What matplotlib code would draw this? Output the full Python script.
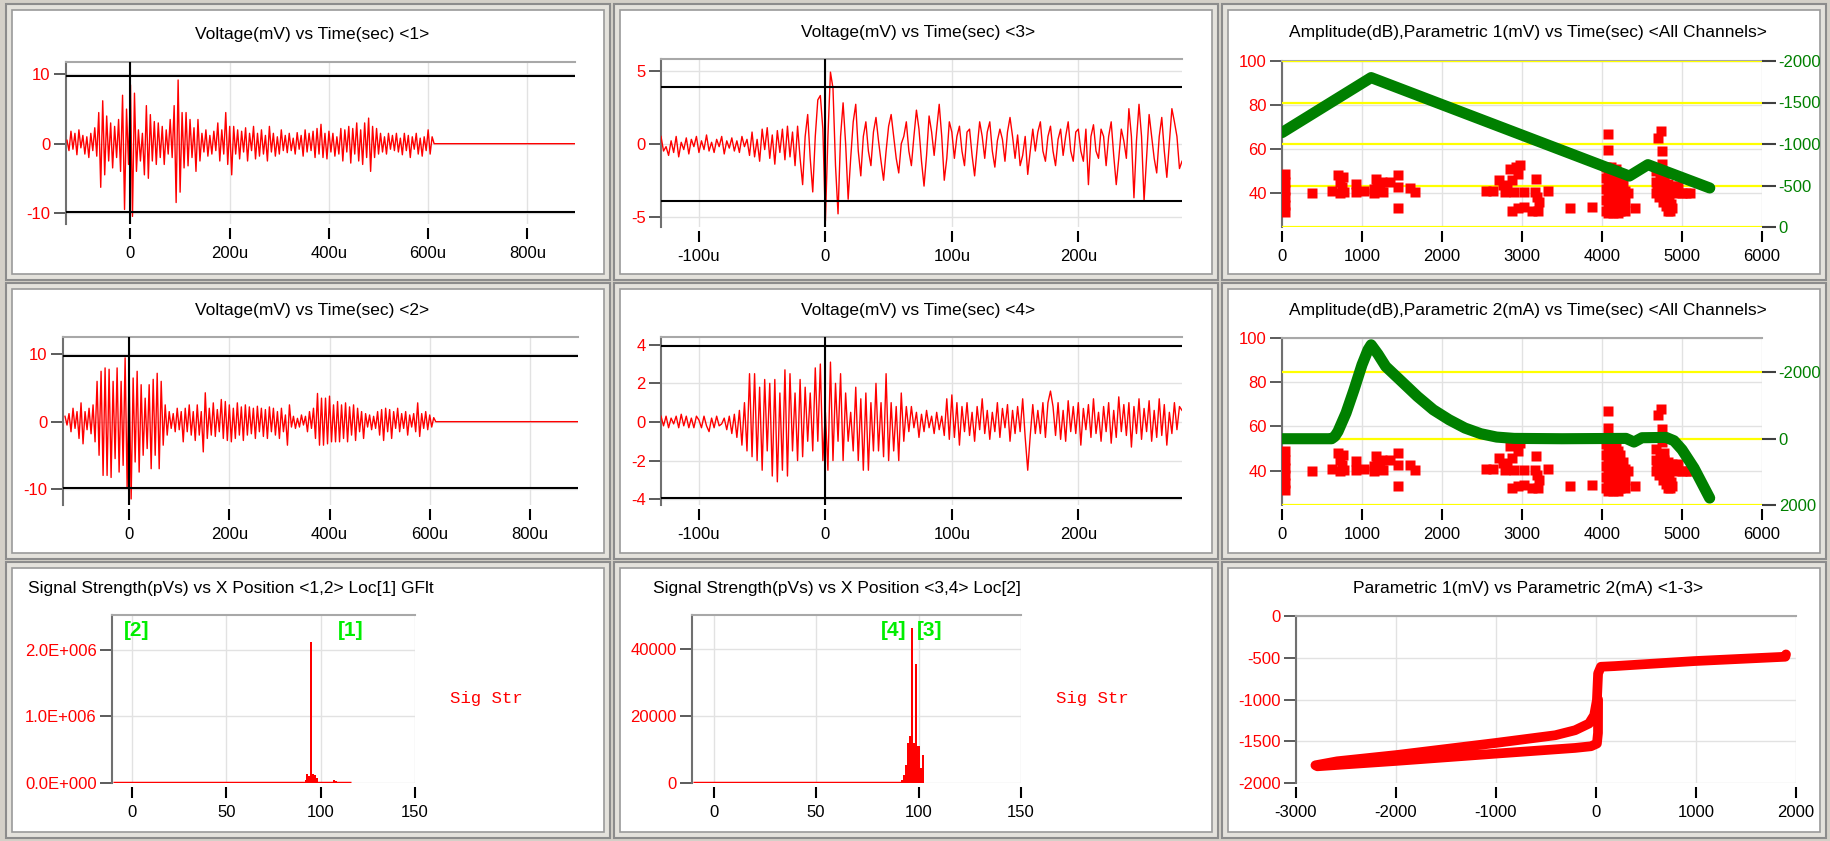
import numpy as np
import matplotlib.pyplot as plt
from matplotlib.patches import Rectangle
from matplotlib.ticker import FuncFormatter

# ---------------- data ----------------
# waveform <1> (mV), sampled every 4 us from -128 us, then flat 0 to 896 us
W1_T0, W1_DT, W1_END = -128, 4, 896
W1 = [0.5, -1.0, 1.8, -0.8, 1.5, -1.6, 2.0, -0.6, 1.2, -1.5,
      1.0, -2.0, 1.5, -1.0, 2.3, -1.8, 4.5, -6.3, 6.2, -4.5,
      4.0, -2.5, 3.0, -3.5, 2.5, -2.0, 3.5, -4.0, 7.0, -9.5,
      5.0, -3.0, 8.5, -10.5, 7.3, -4.0, 2.0, -2.5, 1.5, -4.5,
      5.5, -5.0, 4.2, -2.5, 3.2, -3.0, 3.0, -2.0, 2.5, -3.0,
      2.0, -1.5, 3.5, -2.0, 5.5, -8.5, 9.2, -7.0, 4.5, -3.5,
      4.5, -3.2, 3.5, -2.0, 2.3, -4.0, 3.5, -2.5, 1.5, -1.2,
      2.0, -1.8, 1.2, -1.5, 1.8, -1.0, 3.0, -2.5, 2.0, -1.5,
      4.5, -3.0, 2.5, -4.5, 2.5, -1.5, 2.0, -2.2, 1.8, -1.2,
      2.3, -2.5, 1.5, -1.0, 2.5, -2.2, 1.5, -1.8, 2.0, -1.5,
      1.2, -2.5, 2.5, -1.2, 1.5, -1.8, 1.0, -1.5, 2.0, -1.0,
      1.2, -1.3, 1.5, -1.0, 0.8, -1.5, 1.6, -0.8, 1.2, -1.8,
      2.0, -1.2, 1.5, -1.0, 1.8, -2.0, 2.2, -1.5, 2.8, -2.0,
      1.5, -2.2, 1.8, -1.2, 1.5, -1.8, 1.0, -1.5, 2.2, -2.5,
      2.0, -1.2, 2.5, -2.8, 2.2, -1.5, 3.0, -2.5, 2.0, -3.0,
      3.0, -2.0, 3.7, -4.0, 2.5, -2.0, 2.2, -1.5, 1.5, -1.2,
      1.0, -1.5, 1.5, -0.8, 1.2, -1.0, 1.5, -1.2, 0.8, -1.6,
      1.5, -1.0, 1.2, -2.0, 1.0, -0.8, 1.5, -1.5, 0.8, -1.8,
      1.0, -1.0, 2.0, -1.5, 1.0]

# waveform <2> (mV)
W2_T0, W2_DT, W2_END = -128, 4, 896
W2 = [0.8, -0.5, 1.2, -1.5, 2.0, -1.0, 1.5, -2.5, 2.8, -3.3,
      1.5, -1.2, 2.0, -1.8, 2.5, -3.0, 6.0, -5.0, 7.5, -8.0,
      8.0, -8.0, 7.8, -8.3, 6.0, -5.5, 8.0, -7.5, 6.0, -6.5,
      9.5, -9.8, 7.5, -11.5, 6.5, -6.0, 7.5, -7.5, 5.5, -5.0,
      3.5, -4.0, 5.5, -7.0, 6.3, -5.0, 7.2, -7.0, 6.0, -3.5,
      2.5, -2.0, 1.5, -1.0, 1.2, -1.5, 2.0, -1.2, 1.5, -3.0,
      2.0, -1.5, 2.5, -2.0, 1.5, -2.8, 2.5, -2.0, 1.5, -4.5,
      4.3, -2.5, 2.0, -2.0, 2.8, -2.2, 1.8, -1.5, 3.3, -2.5,
      3.0, -2.8, 2.5, -3.0, 2.0, -2.5, 2.8, -2.0, 2.2, -2.8,
      2.5, -2.0, 2.2, -1.8, 2.0, -2.5, 2.3, -1.5, 2.0, -2.2,
      1.8, -2.5, 2.2, -1.5, 2.0, -2.0, 1.5, -2.5, 2.0, -1.5,
      1.0, -3.5, 2.5, -0.8, 0.8, -1.0, 0.5, -0.8, 1.0, -0.5,
      0.8, -1.5, 1.5, -1.0, 2.0, -2.5, 4.2, -3.5, 3.5, -3.5,
      3.5, -3.3, 3.8, -3.0, 2.5, -3.0, 3.0, -3.0, 2.5, -2.5,
      2.8, -3.0, 2.2, -2.0, 2.5, -2.8, 2.0, -1.5, 1.5, -2.5,
      1.2, -0.8, 1.0, -1.2, 0.8, -1.0, 1.5, -2.0, 1.8, -2.8,
      2.0, -1.5, 1.8, -2.5, 1.5, -1.0, 2.0, -1.5, 1.2, -1.0,
      1.5, -2.0, 1.0, -0.8, 1.2, -1.5, 2.8, -2.2, 1.2, -1.0,
      1.5, -1.2, 1.0, -0.8, 0.6]

# waveform <3> (mV), sampled every 2 us from -130 us
W3_T0, W3_DT = -130, 2
W3 = [0.5, -0.5, -0.2, -0.8, 0.2, -0.6, 0.5, -0.9, 0.1, -0.4,
      0.4, -0.7, 0.3, -0.2, 0.5, -0.6, 0.2, -0.4, 0.6, -0.5,
      0.1, -0.6, 0.3, -0.2, 0.5, -0.7, 0.2, -0.3, 0.4, -0.5,
      0.2, -0.6, 0.5, -0.2, 0.3, -0.8,
      0.8, -0.9, 0.3, -1.2, 1.0, -0.4, 1.1, -1.0, 0.6, -1.4, 0.9, -0.6, 1.0, -1.1, 1.2,
      -0.9, 0.8, -1.5, 1.2, -1.0, -2.8, 0.5, 2.0, -1.0, -3.3,
      0.5, 3.0, 3.3, 1.0, -5.3, 0.5, 4.9, 3.8, -1.5, -4.8,
      0.5, 2.8, 0.0, -3.8, -1.0, 1.5, 2.7, -0.5, -2.2, 0.5,
      1.5, -0.5, -1.5, 0.8, 1.8, 0.2, -1.2, -2.5, -0.5, 1.2,
      2.0, 0.5, -1.0, -2.0, 0.0, 0.5, 1.5, -0.5, -1.5, 0.5,
      2.3, 1.0, -1.2, -2.9, -0.8, 1.9, 0.8, -0.8, 1.0, 2.7,
      0.5, -2.5, -1.0, 1.5, 0.8, -1.0, 0.5, 1.2, -0.5, -1.5,
      0.8, 1.0, -0.8, -2.2, -0.3, 1.5, 0.5, -1.0, 0.8, 1.5,
      -0.5, -1.6, 0.2, 1.0, 0.3, -1.2, 0.8, 1.8, 0.5, -1.0,
      0.6, -1.5, -0.8, 0.5, -2.1, -0.5, 1.0, -0.5, 0.8, 1.5,
      -0.5, -1.2, 0.5, 1.2, -0.5, -1.5, 0.3, 1.0, -0.8, 0.5,
      1.5, -0.5, -1.2, 0.8, 1.0, -0.5, -1.2, 1.0, -2.8, 0.5,
      1.3, -0.5, -1.0, 1.0, 0.5, -1.5, 0.5, 1.5, -0.8, -2.8,
      -1.0, 1.0, 0.2, -1.0, 2.4, 0.5, -3.7, 0.2, 2.7, 0.5,
      -3.9, -1.0, 2.0, 0.5, -1.0, -2.0, 0.5, 1.8, -0.5, -2.3,
      0.0, 2.4, 1.5, 0.5, -1.7, -1.2]

# waveform <4> (mV), sampled every 2 us from -130 us
W4_T0, W4_DT = -130, 2
W4 = [0.3, -0.2, 0.3, -0.3, 0.2, -0.1, 0.3, -0.3, 0.4, -0.2,
      0.3, -0.3, 0.2, -0.3, 0.3, 0.1, -0.3, 0.3, -0.2, -0.5,
      0.2, -0.3, 0.3, -0.2, -0.1, 0.2, -0.4, 0.3, -0.6, 0.4,
      -0.8, 0.6, -1.2, 1.0, -1.5,
      2.5, -1.8, 2.5, -2.0, 1.8, -2.5, 2.2, -1.5, 2.0, -2.8,
      2.2, -3.1, 1.5, -2.5, 2.7, -2.8, 2.5, -1.5,
      1.5, -2.0, 2.2, -1.8, 1.8, -1.0, 1.5,
      -1.5, 2.8, -1.0, 3.0, -2.0, 0.5, -2.5, 3.1, -2.0, 2.0, -1.0, 2.5, -2.0,
      1.5, -1.0, 0.5, -1.5, 1.8, -2.0, 1.2, -2.5, 1.5, -2.5,
      1.0, -1.5, 2.0, -1.5, 1.0, -1.8, 2.5, -2.0, 1.0, -1.5,
      0.8, -2.0, 1.5, -1.0, 0.8,
      -0.5, 0.8, -0.3, 0.5, -0.8, 0.4, -0.5, 0.6, -0.3, 0.3,
      -0.6, 0.5, -0.4, 0.3, -0.7, 1.2, -0.9, 1.4, -0.8, 1.0,
      -1.2, 0.8, -0.5, 1.0, -0.7, 0.5, -1.0, 0.8, -0.4, 1.2,
      -0.6, 0.6, -0.9, 0.5, -0.5, 1.0, -0.8, 0.7, -0.3, 0.9,
      -1.0, 0.6, -0.6, 0.8, -0.5, 1.2, -0.8, -2.5, -0.7, 0.9,
      -0.6, 0.6, -0.6, 1.0, -0.8, 1.0, 1.6, 0.8, -0.7, 1.0,
      -0.9, 0.6, -1.0, 1.1, -0.5, 0.8, -0.6, 1.0, -1.2, 0.7,
      -0.4, 0.9, -0.8, 1.2, -0.6, 0.5, -1.0, 0.8, -0.5, 1.0,
      -1.1, 0.6, -0.8, 1.3, -0.5, 0.9, -0.7, 1.0, -1.3, 0.8,
      -0.6, 1.2, -0.9, 0.7, -0.5, 1.1, -1.0, 0.6, -0.8, 1.2,
      -0.7, 0.9, -1.2, 0.5, -0.6, 1.0, -0.4, 0.8, 0.6]

# hits: time (sec) and amplitude (dB)
HIT_T = [35, 35, 35, 35, 35, 35, 381,
         629, 703, 728, 762, 752, 777, 728, 926, 926, 1025,
         1149, 1173, 1188, 1223, 1149, 1248, 1257, 1347, 1455, 1446, 1455, 1604, 1658,
         2545, 2634, 2708, 2757, 2782, 2807, 2856, 2881, 2906, 2930, 2955, 2980, 3030,
         2881, 2955, 3020, 3178, 3168, 3193, 3218, 3129, 3203, 3327, 3599, 3871,
         4050, 4050, 4050, 4050, 4050, 4080, 4080, 4080, 4080, 4080,
         4110, 4110, 4110, 4110, 4110, 4140, 4140, 4140, 4140, 4140,
         4170, 4170, 4170, 4170, 4200, 4200, 4200, 4200, 4200,
         4230, 4230, 4230, 4230, 4260, 4260, 4260, 4290, 4290, 4290,
         4320, 4416, 4080, 4080,
         4670, 4670, 4680, 4690, 4700, 4710, 4720, 4740, 4740, 4750, 4750, 4760,
         4770, 4780, 4790, 4800, 4810, 4820, 4830, 4840, 4850, 4860, 4870, 4880,
         4900, 4930, 4950, 5000, 5050, 5100]
HIT_DB = [48.8, 45, 41.2, 38.2, 34.4, 31.4, 40,
          40.9, 48, 45, 47.3, 42.7, 40.5, 40, 44.2, 40.5, 41,
          42, 46.5, 44.2, 43.5, 40, 45, 40.5, 45, 48, 42.7, 33.3, 42.4, 40.5,
          40.9, 41, 45.8, 43.5, 40.5, 42, 51, 45.8, 40.5, 52, 48.8, 52.6, 40.5,
          32, 33, 33.6, 46.5, 40.5, 38, 36, 32, 32, 41, 33.3, 33.6,
          52, 47, 42, 37, 32, 50, 45, 40, 35, 31,
          52, 48, 43, 38, 33, 50, 46, 41, 36, 31,
          51, 44, 39, 34, 49, 45, 40, 35, 31,
          47, 42, 37, 32, 44, 39, 34, 41, 36, 32,
          40, 33.3, 67, 59.5,
          50, 45, 40, 42, 65, 38, 47, 68, 43, 59, 53, 36,
          45, 48, 40, 34, 37, 32, 44, 38, 32, 35, 43, 33,
          42, 40, 43, 40, 40, 40]

# parametric 1 (mV) and parametric 2 (mA) vs time
P1_T = [0, 1114, 4342, 4574, 5347]
P1_V = [-1137, -1800, -614, -751, -470]
P2_T = [0, 620, 660, 700, 800, 900, 1000, 1075, 1114, 1200, 1297, 1495, 1693, 1891,
        2089, 2287, 2485, 2683, 2900, 3500, 4300, 4400, 4500, 4800, 4900, 5000, 5150, 5346]
P2_V = [0, 0, -70, -220, -774, -1477, -2231, -2683, -2834, -2550, -2180, -1729, -1276, -874,
        -573, -322, -151, -50, -10, 0, -10, 100, -30, -40, 60, 330, 885, 1790]

# parametric 1 vs parametric 2 loop
LOOP_P2 = [1900, 1893, 981, 188, 49, 21, 9, -18, -70, -209, -407, -1000, -1993, -2588, -2806,
           -2786, -1993, -1000, -209, -50, 9, 20, 21]
LOOP_P1 = [-460, -488, -540, -600, -608, -688, -1008, -1188, -1288, -1368, -1428, -1520, -1665,
           -1740, -1788, -1800, -1735, -1648, -1580, -1560, -1528, -1400, -1000]

# signal strength vs x position (non-zero bins), zero elsewhere in range
SS1_RANGE = (-10, 116)
SS1_X = [52, 70, 92, 93, 94, 95, 96, 97, 98, 99, 107, 108, 110]
SS1_V = [0.012e6, 0.01e6, 0.05e6, 0.13e6, 0.11e6, 2.12e6, 0.14e6, 0.12e6, 0.07e6, 0.02e6,
         0.04e6, 0.035e6, 0.015e6]
SS2_RANGE = (-10, 102)
SS2_X = [92, 93, 94, 95, 96, 97, 98, 99, 100, 101, 102]
SS2_V = [1000, 2500, 5500, 12000, 14000, 46500, 12000, 35700, 11000, 4500, 8500]

# ---------------- drawing ----------------
W, H = 1831, 841
BG = '#d4d0c8'
RED = '#ff0000'
GRN = '#008000'
plt.rcParams['font.family'] = ['Liberation Sans', 'DejaVu Sans']
plt.rcParams['axes.unicode_minus'] = False
FS = 12       # tick labels
FT = 12.5     # titles

fig = plt.figure(figsize=(W / 100, H / 100), dpi=100, facecolor=BG)


def px_axes(l, r, t, b):
    return fig.add_axes([l / W, 1 - b / H, (r - l) / W, (b - t) / H])


def frame(x0, x1, y0, y1):
    fig.patches.append(Rectangle((x0 / W, 1 - y1 / H), (x1 - x0) / W, (y1 - y0) / H,
                                 transform=fig.transFigure, facecolor='#e4e2dc',
                                 edgecolor='#8c8c8c', lw=1.5, zorder=-2))
    k = 6
    fig.patches.append(Rectangle(((x0 + k) / W, 1 - (y1 - k) / H), (x1 - x0 - 2 * k) / W,
                                 (y1 - y0 - 2 * k) / H, transform=fig.transFigure,
                                 facecolor='white', edgecolor='#9a9a9a', lw=1.2, zorder=-1))


for c0, c1 in [(6, 610), (614, 1218), (1222, 1826)]:
    for r0, r1 in [(4, 280), (283, 559), (562, 838)]:
        frame(c0, c1, r0, r1)


def style(ax, xticks, yticks):
    ax.set_xticks(xticks)
    ax.set_yticks(yticks)
    ax.spines['right'].set_visible(False)
    ax.spines['bottom'].set_visible(False)
    ax.spines['bottom'].set_position(('outward', 3))
    ax.spines['top'].set_color('#a8a8a8')
    ax.spines['top'].set_linewidth(1.5)
    ax.spines['left'].set_color('#707070')
    ax.spines['left'].set_linewidth(1.5)
    ax.tick_params(axis='x', length=8, width=1.5, color='black', labelcolor='black',
                   labelsize=FS, pad=5)
    ax.tick_params(axis='y', length=9, width=1.2, color='#404040', labelcolor=RED,
                   labelsize=FS, pad=2)
    ax.grid(True, color='#e2e2e2', lw=1)
    ax.set_axisbelow(True)


usec = FuncFormatter(lambda v, p: '0' if abs(v) < 1e-9 else f'{v:.0f}u')


def wave(box, t0, dt, vals, end, xlim, ylim, yticks, xticks, thr, title, tx, ty):
    ax = px_axes(*box)
    tt = t0 + dt * np.arange(len(vals))
    vv = np.asarray(vals, dtype=float)
    if end is not None:
        tt = np.append(tt, [tt[-1] + dt, end])
        vv = np.append(vv, [0.0, 0.0])
    ax.plot(tt, vv, color=RED, lw=1.0, zorder=3)
    ax.axhline(thr, color='black', lw=1.5, zorder=4)
    ax.axhline(-thr, color='black', lw=1.5, zorder=4)
    ax.axvline(0, color='black', lw=1.5, zorder=4)
    ax.set_xlim(*xlim)
    ax.set_ylim(*ylim)
    style(ax, xticks, yticks)
    ax.xaxis.set_major_formatter(usec)
    fig.text(tx / W, 1 - ty / H, title, ha='center', va='center', fontsize=FT)
    return ax


wave((66, 575, 62, 224), W1_T0, W1_DT, W1, W1_END, (-130, 896), (-11.6, 11.8),
     [-10, 0, 10], [0, 200, 400, 600, 800], 9.8, 'Voltage(mV) vs Time(sec) <1>', 312, 35)
wave((63, 578, 337, 505), W2_T0, W2_DT, W2, W2_END, (-132, 896), (-12.4, 12.6),
     [-10, 0, 10], [0, 200, 400, 600, 800], 9.8, 'Voltage(mV) vs Time(sec) <2>', 312, 311)
wave((661, 1182, 59, 227), W3_T0, W3_DT, W3, None, (-130, 282), (-5.7, 5.8),
     [-5, 0, 5], [-100, 0, 100, 200], 3.9, 'Voltage(mV) vs Time(sec) <3>', 918, 33)
wave((661, 1182, 337, 505), W4_T0, W4_DT, W4, None, (-130, 282), (-4.3, 4.4),
     [-4, -2, 0, 2, 4], [-100, 0, 100, 200], 3.95, 'Voltage(mV) vs Time(sec) <4>', 918, 311)


def amp_panel(box, pt, pv, rlim, rticks, title, ty):
    ax = px_axes(*box)
    ax.set_xlim(0, 6000)
    ax.set_ylim(24.5, 100)
    style(ax, [0, 1000, 2000, 3000, 4000, 5000, 6000], [40, 60, 80, 100])
    ax2 = ax.twinx()
    for s in ax2.spines.values():
        s.set_visible(False)
    ax2.grid(True, axis='y', color='#ffff00', lw=1.6)
    ax2.set_axisbelow(True)
    ax2.plot(HIT_T, HIT_DB, 's', color=RED, ms=6.5, mec='none', transform=ax.transData,
             zorder=2)
    ax2.plot(pt, pv, color=GRN, lw=8, solid_capstyle='round', solid_joinstyle='round', zorder=3)
    ax2.set_ylim(*rlim)
    ax2.set_yticks(rticks)
    ax2.tick_params(axis='y', length=10, width=1.5, color='#404040', labelcolor=GRN,
                    labelsize=FS, pad=2)
    fig.text(1528 / W, 1 - ty / H, title, ha='center', va='center', fontsize=FT)


amp_panel((1282, 1762, 61, 227), P1_T, P1_V, (0, -2000), [-2000, -1500, -1000, -500, 0],
          'Amplitude(dB),Parametric 1(mV) vs Time(sec) <All Channels>', 32)
amp_panel((1282, 1762, 338, 505), P2_T, P2_V, (2000, -3040), [-2000, 0, 2000],
          'Amplitude(dB),Parametric 2(mA) vs Time(sec) <All Channels>', 310)


def sci(v, p):
    m, e = f'{v:.1E}'.split('E')
    return f'{m}E{int(e):+04d}'


def ss_panel(box, rng, xs, vs, ylim, yticks, fmt, marks, title, tx, sx):
    ax = px_axes(*box)
    ax.bar(xs, vs, width=1.0, color=RED, zorder=3)
    ax.hlines(0, rng[0], rng[1], color=RED, lw=2.5, zorder=3)
    ax.set_xlim(-10.5, 150)
    ax.set_ylim(*ylim)
    style(ax, [0, 50, 100, 150], yticks)
    if fmt is not None:
        ax.yaxis.set_major_formatter(FuncFormatter(fmt))
    for lab, x in marks:
        ax.text(x, ylim[1] * 0.91, lab, color='#00ee00', fontsize=15, fontweight='bold',
                ha='center', va='center')
    fig.text(tx / W, 1 - 588 / H, title, ha='left', va='center', fontsize=FT)
    fig.text(sx / W, 1 - 699 / H, 'Sig Str', color=RED, fontsize=12.5,
             family=['Liberation Mono', 'DejaVu Sans Mono'], ha='center', va='center')


ss_panel((112, 415, 615, 783), SS1_RANGE, SS1_X, SS1_V, (0, 2.52e6), [0, 1e6, 2e6], sci,
         [('[2]', 2.3), ('[1]', 116)],
         'Signal Strength(pVs) vs X Position <1,2> Loc[1] GFlt', 28, 486)
ss_panel((692, 1021, 615, 783), SS2_RANGE, SS2_X, SS2_V, (0, 50300), [0, 20000, 40000], None,
         [('[4]', 87.7), ('[3]', 105.4)],
         'Signal Strength(pVs) vs X Position <3,4> Loc[2]', 653, 1092)

ax = px_axes(1296, 1796, 616, 783)
ax.plot(LOOP_P2, LOOP_P1, color=RED, lw=7, solid_capstyle='round', solid_joinstyle='round',
        zorder=3)
ax.set_xlim(-3000, 2000)
ax.set_ylim(-2000, 0)
style(ax, [-3000, -2000, -1000, 0, 1000, 2000], [-2000, -1500, -1000, -500, 0])
fig.text(1528 / W, 1 - 588 / H, 'Parametric 1(mV) vs Parametric 2(mA) <1-3>',
         ha='center', va='center', fontsize=FT)

fig.savefig('out.png', dpi=100, facecolor=BG)
